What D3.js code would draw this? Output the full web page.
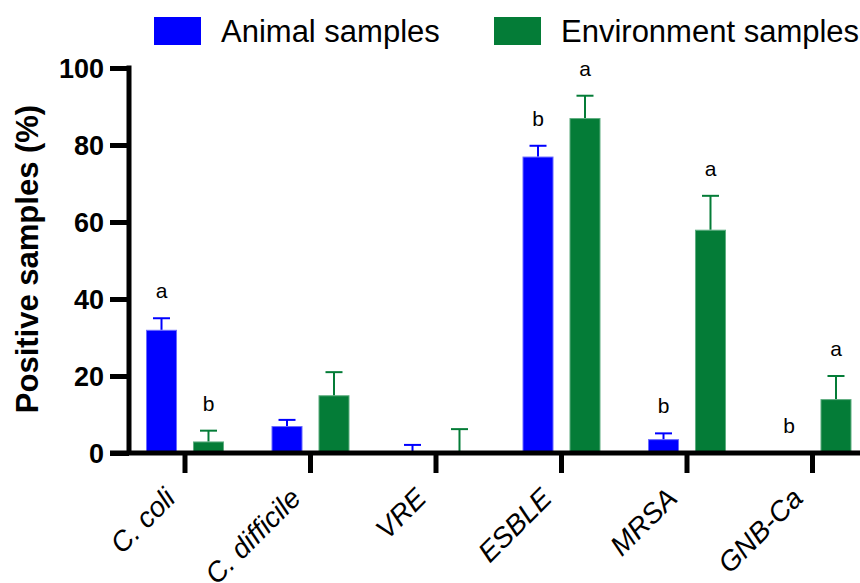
<!DOCTYPE html>
<html lang="en">
<head>
    <meta charset="UTF-8">
    <title>Positive samples</title>
    <script src="https://d3js.org/d3.v7.min.js"></script>
    <style>
        body { margin: 0; background: #fff; }
        svg text { font-family: "Liberation Sans", Arial, sans-serif; fill: #000; }
    </style>
</head>
<body>
    <script>
    var categories = ["C. coli", "C. difficile", "VRE", "ESBLE", "MRSA", "GNB-Ca"];
    var animal = [32, 7, 0, 77, 3.6, 0];
    var animalErr = [3, 1.6, 2.1, 2.8, 1.5, 0];
    var environment = [3, 15, 0, 87, 58, 14];
    var environmentErr = [2.8, 6, 6.2, 5.8, 8.8, 6];
    var animalLetters = ["a", "", "", "b", "b", "b"];
    var environmentLetters = ["b", "", "", "a", "a", "a"];
    var yTicks = [0, 20, 40, 60, 80, 100];
    var seriesNames = ["Animal samples", "Environment samples"];

    var w = 860, h = 583;
    var blue = "#0000ff", green = "#047c37";

    var svg = d3.select("body")
        .append("svg")
        .attr("width", w)
        .attr("height", h);

    var y = d3.scaleLinear().domain([0, 100]).range([453, 68]);
    var x = d3.scaleBand().domain(categories).range([122.25, 875.25]);
    var xSub = d3.scaleBand().domain(["animal", "env"]).range([-39, 39]).paddingInner(0.34);

    // rows for bars
    var rows = [];
    categories.forEach(function(c, i) {
        rows.push({cat: c, key: "animal", v: animal[i], e: animalErr[i], letter: animalLetters[i], color: blue, edge: "#6b6bff"});
        rows.push({cat: c, key: "env", v: environment[i], e: environmentErr[i], letter: environmentLetters[i], color: green, edge: "#5fae80"});
    });
    function cx(d) { return x(d.cat) + x.bandwidth() / 2 + xSub(d.key) + xSub.bandwidth() / 2; }

    // bars
    svg.selectAll("rect.bar")
        .data(rows.filter(function(d) { return d.v > 0; }))
        .enter()
        .append("rect")
        .attr("class", "bar")
        .attr("x", function(d) { return cx(d) - xSub.bandwidth() / 2 + 0.5; })
        .attr("width", xSub.bandwidth() - 1)
        .attr("y", function(d) { return y(d.v) + 0.5; })
        .attr("height", function(d) { return y(0) - y(d.v); })
        .attr("fill", function(d) { return d.color; })
        .attr("stroke", function(d) { return d.edge; })
        .attr("stroke-width", 1);

    // error bars (upper only)
    var err = svg.selectAll("g.err")
        .data(rows.filter(function(d) { return d.e > 0; }))
        .enter()
        .append("g")
        .attr("stroke", function(d) { return d.color; })
        .attr("stroke-width", 2);
    err.append("line")
        .attr("x1", cx).attr("x2", cx)
        .attr("y1", function(d) { return y(d.v); })
        .attr("y2", function(d) { return y(d.v + d.e); });
    err.append("line")
        .attr("x1", function(d) { return cx(d) - 8.5; })
        .attr("x2", function(d) { return cx(d) + 8.5; })
        .attr("y1", function(d) { return y(d.v + d.e); })
        .attr("y2", function(d) { return y(d.v + d.e); });

    // significance letters
    svg.selectAll("text.sig")
        .data(rows.filter(function(d) { return d.letter; }))
        .enter()
        .append("text")
        .attr("x", cx)
        .attr("y", function(d) { return y(d.v + d.e) - 20; })
        .attr("text-anchor", "middle")
        .style("font-size", "21px")
        .text(function(d) { return d.letter; });

    // y axis
    var yAxis = svg.append("g")
        .attr("transform", "translate(129,0)")
        .call(d3.axisLeft(y).tickValues(yTicks).tickSize(19).tickSizeOuter(0).tickPadding(6));
    yAxis.select(".domain").remove();
    yAxis.selectAll(".tick line").attr("stroke-width", 5).attr("stroke", "#000");
    yAxis.selectAll(".tick text")
        .style("font-size", "27px")
        .style("font-weight", "bold")
        .attr("dy", "0.36em");
    svg.append("line")
        .attr("x1", 129).attr("x2", 129)
        .attr("y1", y(100) - 2.5).attr("y2", y(0))
        .attr("stroke", "#000").attr("stroke-width", 5);

    // x axis
    var xAxis = svg.append("g")
        .attr("transform", "translate(0," + y(0) + ")")
        .call(d3.axisBottom(x).tickSize(20).tickSizeOuter(0).tickFormat(""));
    xAxis.select(".domain").remove();
    xAxis.selectAll(".tick line").attr("stroke-width", 5).attr("stroke", "#000");
    svg.append("line")
        .attr("x1", 110).attr("x2", w)
        .attr("y1", y(0)).attr("y2", y(0))
        .attr("stroke", "#000").attr("stroke-width", 5);

    svg.selectAll("text.xlab")
        .data(categories)
        .enter()
        .append("text")
        .attr("transform", function(d) {
            return "translate(" + (x(d) + x.bandwidth() / 2 - 8) + ",500) rotate(-45)";
        })
        .attr("text-anchor", "end")
        .style("font-size", "28px")
        .style("font-style", "italic")
        .text(function(d) { return d; });

    // y title
    svg.append("text")
        .attr("transform", "translate(38,259) rotate(-90)")
        .attr("text-anchor", "middle")
        .style("font-size", "31px")
        .style("font-weight", "bold")
        .text("Positive samples (%)");

    // legend
    var legendX = [154, 494];
    var legend = svg.selectAll("g.legend")
        .data(seriesNames)
        .enter()
        .append("g")
        .attr("transform", function(d, i) { return "translate(" + legendX[i] + ",17)"; });
    legend.append("rect")
        .attr("width", 47)
        .attr("height", 28)
        .attr("fill", function(d, i) { return i === 0 ? blue : green; });
    legend.append("text")
        .attr("x", 67)
        .attr("y", 25)
        .style("font-size", "31px")
        .text(function(d) { return d; });
    </script>
</body>
</html>
